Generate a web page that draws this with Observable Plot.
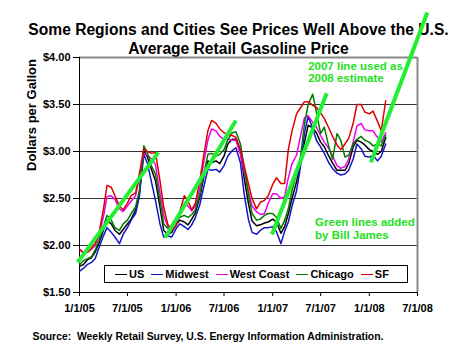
<!DOCTYPE html>
<html>
<head>
<meta charset="utf-8">
<script src="https://cdn.jsdelivr.net/npm/d3@7"></script>
<script src="https://cdn.jsdelivr.net/npm/@observablehq/plot@0.6"></script>
<style>
  body { margin: 0; background: white; }
  #wrap { position: relative; width: 470px; height: 353px; font-family: "Liberation Sans", Arial, sans-serif; }
  #legend { position: absolute; left: 104px; top: 265px; width: 292px; height: 16px; border: 1px solid #000; background: #fff;
            display: flex; align-items: center; font: bold 11px "Liberation Sans", Arial, sans-serif; padding-left: 10px; box-sizing: content-box; }
  #legend .item { display: flex; align-items: center; margin-right: 7px; }
  #legend .sw { display: inline-block; width: 12px; height: 0; border-top: 1.5px solid; margin-right: 2px; }
</style>
</head>
<body>
<div id="wrap"></div>
<script>
const dates = [
  "2005-01-03","2005-01-17","2005-02-01","2005-02-15","2005-03-01","2005-03-15","2005-04-01","2005-04-15",
  "2005-05-01","2005-05-15","2005-06-01","2005-06-15","2005-07-01","2005-07-15","2005-08-01","2005-08-15",
  "2005-09-01","2005-09-15","2005-10-01","2005-10-15","2005-11-01","2005-11-15","2005-12-01","2005-12-15",
  "2006-01-01","2006-01-15","2006-02-01","2006-02-15","2006-03-01","2006-03-15","2006-04-01","2006-04-15",
  "2006-05-01","2006-05-15","2006-06-01","2006-06-15","2006-07-01","2006-07-15","2006-08-01","2006-08-15",
  "2006-09-01","2006-09-15","2006-10-01","2006-10-15","2006-11-01","2006-11-15","2006-12-01","2006-12-15",
  "2007-01-01","2007-01-15","2007-02-01","2007-02-15","2007-03-01","2007-03-15","2007-04-01","2007-04-15",
  "2007-05-01","2007-05-15","2007-06-01","2007-06-15","2007-07-01","2007-07-15","2007-08-01","2007-08-15",
  "2007-09-01","2007-09-15","2007-10-01","2007-10-15","2007-11-01","2007-11-15","2007-12-01","2007-12-15",
  "2008-01-01","2008-01-15","2008-02-01","2008-02-15","2008-03-03"
];

const us = [
  1.78,1.80,1.85,1.87,1.93,2.02,2.16,2.27,2.23,2.16,2.12,2.17,2.23,2.28,2.38,2.55,
  3.01,2.94,2.80,2.69,2.41,2.16,2.12,2.14,
  2.22,2.27,2.25,2.22,2.28,2.35,2.52,2.72,2.90,2.88,2.90,2.87,2.95,3.08,3.13,3.13,
  3.00,2.72,2.45,2.26,2.21,2.22,2.24,2.25,
  2.28,2.25,2.13,2.20,2.34,2.50,2.68,2.85,3.10,3.28,3.25,3.20,3.10,3.05,2.95,2.88,
  2.80,2.80,2.80,2.87,3.05,3.12,3.10,3.07,3.02,3.00,2.97,3.00,3.15
];
const midwest = [
  1.73,1.76,1.80,1.82,1.86,1.97,2.10,2.19,2.14,2.09,2.02,2.12,2.19,2.27,2.34,2.52,
  2.97,2.87,2.66,2.48,2.23,2.09,2.10,2.09,
  2.18,2.23,2.20,2.17,2.22,2.30,2.44,2.62,2.81,2.80,2.81,2.78,2.85,2.95,3.01,3.04,
  2.88,2.55,2.28,2.14,2.12,2.16,2.19,2.19,
  2.20,2.15,2.02,2.15,2.25,2.42,2.58,2.82,3.20,3.37,3.25,3.12,3.05,2.98,2.88,2.82,
  2.77,2.75,2.76,2.80,2.92,3.08,3.03,2.95,2.94,2.96,2.90,2.95,3.08
];
const westCoast = [
  1.96,1.92,1.93,1.96,2.00,2.10,2.30,2.52,2.53,2.49,2.39,2.36,2.42,2.47,2.53,2.72,
  2.98,2.96,2.92,2.86,2.56,2.32,2.20,2.16,
  2.22,2.33,2.45,2.42,2.37,2.42,2.62,2.88,3.12,3.24,3.22,3.16,3.13,3.13,3.12,3.12,
  2.97,2.78,2.58,2.42,2.36,2.33,2.34,2.45,
  2.55,2.55,2.50,2.52,2.72,2.87,2.96,3.15,3.36,3.38,3.31,3.26,3.17,3.10,3.03,2.95,
  2.85,2.82,2.84,2.92,3.10,3.27,3.30,3.23,3.22,3.22,3.15,3.10,3.20
];
const chicago = [
  1.80,1.84,1.86,1.88,1.95,2.05,2.20,2.32,2.27,2.19,2.16,2.23,2.27,2.34,2.41,2.58,
  3.06,2.98,2.84,2.76,2.48,2.23,2.18,2.20,
  2.27,2.30,2.32,2.30,2.33,2.38,2.55,2.75,2.97,2.98,2.95,2.97,3.02,3.12,3.20,3.21,
  3.08,2.83,2.55,2.34,2.27,2.28,2.32,2.34,
  2.34,2.30,2.18,2.27,2.39,2.59,2.76,2.92,3.29,3.50,3.61,3.42,3.19,3.26,3.05,2.92,
  3.19,3.12,2.94,2.96,3.08,3.13,3.16,3.12,3.10,3.06,3.08,3.06,3.17
];
const sf = [
  1.95,1.92,1.93,1.97,2.02,2.12,2.38,2.64,2.62,2.53,2.42,2.38,2.45,2.53,2.56,2.76,
  3.03,3.00,2.98,2.99,2.69,2.41,2.22,2.17,
  2.21,2.36,2.53,2.47,2.38,2.45,2.70,2.95,3.22,3.33,3.30,3.24,3.20,3.18,3.17,3.15,
  3.02,2.85,2.66,2.50,2.39,2.46,2.48,2.53,
  2.65,2.72,2.66,2.66,3.02,3.22,3.40,3.46,3.53,3.53,3.49,3.47,3.41,3.35,3.25,3.16,
  3.07,3.02,3.08,3.14,3.30,3.50,3.50,3.42,3.40,3.43,3.32,3.22,3.54
];

const seriesNames = ["US", "Midwest", "West Coast", "Chicago", "SF"];
const seriesColors = ["#000000", "#1414c8", "#ee00ee", "#007a00", "#dd0000"];

// Trend lines added by hand (start/end date and price)
const trendStartDates = ["2004-12-25", "2005-11-21", "2006-12-29", "2008-01-07"];
const trendStartValues = [1.82, 2.085, 2.117, 2.886];
const trendEndDates = ["2005-10-26", "2006-08-15", "2007-07-24", "2008-08-07"];
const trendEndValues = [2.99, 3.33, 3.62, 4.479];

const xTickDates = ["2005-01-01","2005-07-01","2006-01-01","2006-07-01","2007-01-01","2007-07-01","2008-01-01","2008-07-01"];
const yTicks = [1.5, 2.0, 2.5, 3.0, 3.5, 4.0];
const gridValues = [2.0, 2.5, 3.0, 3.5];

const titleLines = ["Some Regions and Cities See Prices Well Above the U.S.", "Average Retail Gasoline Price"];
const yLabel = "Dollars per Gallon";
const sourceText = "Source:  Weekly Retail Survey, U.S. Energy Information Administration.";
const note1 = {date: "2007-05-15", value: 3.965, text: "2007 line used as\n2008 estimate"};
const note2 = {date: "2007-06-10", value: 2.30, text: "Green lines added\nby Bill James"};

const parse = s => new Date(s + "T00:00:00Z");
const allSeries = [us, midwest, westCoast, chicago, sf];
const table = [];
allSeries.forEach((vals, k) => vals.forEach((v, i) => table.push({series: seriesNames[k], date: parse(dates[i]), value: v})));
const trends = trendStartDates.map((d, i) => ({x1: parse(d), y1: trendStartValues[i], x2: parse(trendEndDates[i]), y2: trendEndValues[i]}));
const xTicks = xTickDates.map(parse);
const xMin = xTicks[0], xMax = xTicks[xTicks.length - 1];
const fmtDate = d => `${d.getUTCMonth() + 1}/${d.getUTCDate()}/${String(d.getUTCFullYear()).slice(2)}`;

const font = "'Liberation Sans', Arial, sans-serif";
const green = "#22ee33";

const chart = Plot.plot({
  width: 470,
  height: 353,
  marginLeft: 79,
  marginRight: 53,
  marginTop: 57,
  marginBottom: 61,
  style: {fontFamily: font, fontSize: "11px", fontWeight: "bold", background: "transparent", overflow: "visible", color: "#000"},
  x: {type: "utc", domain: [xMin, xMax], ticks: xTicks, tickFormat: fmtDate, tickSize: 4, tickPadding: 8, label: null},
  y: {domain: [1.5, 4.0], ticks: yTicks, tickFormat: d => "$" + d.toFixed(2), tickSize: 6, tickPadding: 3, label: null},
  color: {domain: seriesNames, range: seriesColors},
  marks: [
    Plot.text([titleLines[0]], {frameAnchor: "top", dx: -10, dy: -34, fontSize: 15.6, fontWeight: "bold", fill: "#000"}),
    Plot.text([titleLines[1]], {frameAnchor: "top", dx: -10, dy: -15, fontSize: 15.6, fontWeight: "bold", fill: "#000"}),
    Plot.text([yLabel], {frameAnchor: "left", rotate: -90, dx: -48, dy: -4, fontSize: 13, fontWeight: "bold", fill: "#000"}),
    Plot.text([sourceText], {frameAnchor: "bottom-left", textAnchor: "start", dx: -47, dy: 47, fontSize: 10.4, fontWeight: "bold", fill: "#000"}),
    Plot.ruleY(gridValues, {stroke: "#333", strokeWidth: 1}),
    Plot.ruleY([4.0], {stroke: "#888", strokeWidth: 2}),
    Plot.ruleX([xMax], {stroke: "#888", strokeWidth: 2}),
    Plot.ruleY([1.5], {stroke: "#000", strokeWidth: 1}),
    Plot.ruleX([xMin], {stroke: "#000", strokeWidth: 1}),
    Plot.axisX({ticks: xTicks, tickFormat: fmtDate, tickSize: 4, tickPadding: 8, fontSize: 11, fontWeight: "bold"}),
    Plot.axisY({ticks: yTicks, tickFormat: d => "$" + d.toFixed(2), tickSize: 6, tickPadding: 3, fontSize: 11, fontWeight: "bold"}),
    Plot.line(table, {x: "date", y: "value", z: "series", stroke: "series", strokeWidth: 1.5}),
    Plot.link(trends, {x1: "x1", y1: "y1", x2: "x2", y2: "y2", stroke: green, strokeWidth: 4, clip: false}),
    Plot.text([note1], {x: d => parse(d.date), y: "value", text: "text", textAnchor: "start", lineAnchor: "top", lineHeight: 1.1, fontSize: 11.5, fontWeight: "bold", fill: "#22e022"}),
    Plot.text([note2], {x: d => parse(d.date), y: "value", text: "text", textAnchor: "start", lineAnchor: "top", lineHeight: 1.1, fontSize: 11.5, fontWeight: "bold", fill: "#22e022"})
  ]
});

const wrap = document.getElementById("wrap");
wrap.appendChild(chart);

const legend = document.createElement("div");
legend.id = "legend";
seriesNames.forEach((name, i) => {
  const item = document.createElement("span");
  item.className = "item";
  const sw = document.createElement("span");
  sw.className = "sw";
  sw.style.borderTopColor = seriesColors[i];
  const label = document.createElement("span");
  label.textContent = name;
  item.appendChild(sw);
  item.appendChild(label);
  legend.appendChild(item);
});
wrap.appendChild(legend);
</script>
</body>
</html>
